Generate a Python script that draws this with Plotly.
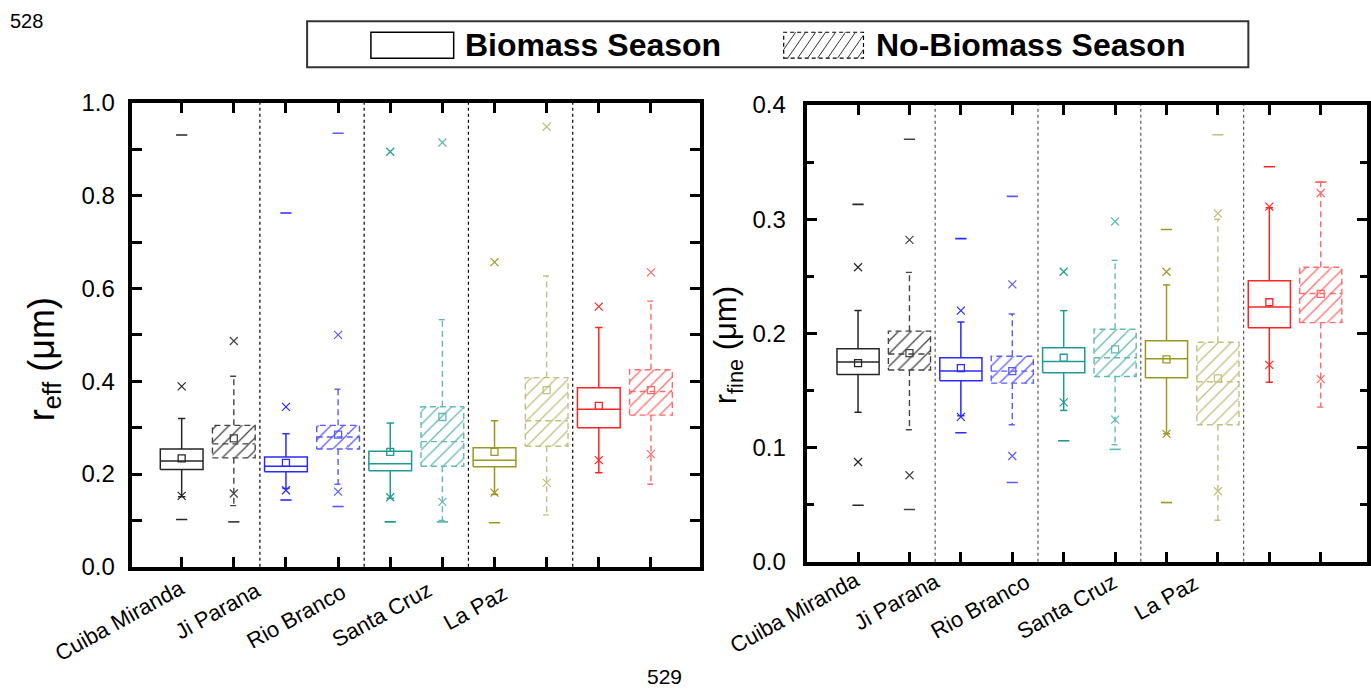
import plotly.graph_objects as go

W, H = 1371, 689

# ---------------- data ----------------
sites = ["Cuiba Miranda", "Ji Parana", "Rio Branco", "Santa Cruz", "La Paz"]
seasons = ["Biomass Season", "No-Biomass Season"]
positions = [1, 2, 3, 4, 5, 6, 7, 8, 9, 10]
dividers = [2.5, 4.5, 6.5, 8.5]

reff_max = [0.931, None, 0.763, 0.935, None, None, None, None, None, None]
reff_p99 = [0.389, 0.487, 0.345, 0.500, 0.895, 0.915, 0.657, 0.949, 0.561, 0.635]
reff_whi = [0.320, 0.411, 0.287, 0.383, 0.310, 0.533, 0.315, 0.627, 0.516, 0.573]
reff_q3 = [0.254, 0.305, 0.237, 0.305, 0.249, 0.345, 0.257, 0.408, 0.386, 0.425]
reff_mean = [0.234, 0.277, 0.224, 0.285, 0.248, 0.323, 0.248, 0.381, 0.347, 0.381]
reff_med = [0.228, 0.265, 0.217, 0.280, 0.222, 0.270, 0.230, 0.315, 0.340, 0.378]
reff_q1 = [0.210, 0.235, 0.205, 0.254, 0.207, 0.217, 0.216, 0.260, 0.300, 0.327]
reff_wlo = [0.151, 0.132, 0.169, 0.178, 0.148, 0.100, 0.156, 0.112, 0.203, 0.178]
reff_p1 = [0.153, 0.158, 0.165, 0.162, 0.150, 0.140, 0.160, 0.181, 0.230, 0.243]
reff_min = [0.102, 0.097, 0.144, 0.130, 0.097, 0.097, 0.095, None, None, None]

rfine_max = [0.313, 0.370, 0.283, 0.320, None, None, 0.291, 0.374, 0.346, 0.3325]
rfine_p99 = [0.258, 0.282, 0.220, 0.243, 0.254, 0.298, 0.254, 0.305, 0.311, 0.323]
rfine_whi = [0.220, 0.2535, 0.210, 0.217, 0.220, 0.264, 0.2425, 0.300, 0.310, 0.3325]
rfine_q3 = [0.1865, 0.202, 0.1787, 0.180, 0.1874, 0.2037, 0.1935, 0.1923, 0.2462, 0.2579]
rfine_mean = [0.174, 0.1827, 0.1696, 0.167, 0.1787, 0.186, 0.1772, 0.1606, 0.2273, 0.2346]
rfine_med = [0.175, 0.182, 0.167, 0.167, 0.1754, 0.1787, 0.1778, 0.1577, 0.2232, 0.235]
rfine_q1 = [0.164, 0.168, 0.1585, 0.1565, 0.1655, 0.1623, 0.1612, 0.120, 0.2049, 0.2095]
rfine_wlo = [0.131, 0.1157, 0.128, 0.120, 0.1326, 0.1026, 0.1122, 0.0364, 0.1573, 0.1355]
rfine_p1 = [0.0874, 0.0758, 0.127, 0.0927, 0.1396, 0.1245, 0.112, 0.0618, 0.1725, 0.160]
rfine_min = [0.0496, 0.0458, 0.113, 0.0694, 0.106, 0.0985, 0.0519, None, None, None]

site_colors = ["#262626", "#2b2bff", "#1f9a94", "#999922", "#ff2424"]
site_colors_light = ["#444444", "#5a5aff", "#62b9b4", "#c0c080", "#ff6a6a"]
BOX_HW = 0.41
CAP_HW = 0.07
FONT = "Liberation Sans, Arial, sans-serif"

# the captured page is squeezed vertically; pre-compensate target pixel rows
SQ_A, SQ_B = 0.9634, 12.7


def px_x(x):
    return x / W


def px_y(y):
    return 1 - ((y - SQ_B) / SQ_A) / H


fig = go.Figure()


def add_panel(xa, ya, st):
    q1, med, q3, mean, wlo, whi, p1, p99, vmin, vmax = st
    cols = [site_colors[k // 2] if k % 2 == 0 else site_colors_light[k // 2] for k in range(10)]
    fig.add_trace(go.Bar(
        x=positions, base=q1, y=[b - a for a, b in zip(q1, q3)], width=2 * BOX_HW,
        marker=dict(
            color=["rgba(0,0,0,0)" if k % 2 == 0 else cols[k] for k in range(10)],
            line=dict(width=0),
            pattern=dict(shape=["" if k % 2 == 0 else "/" for k in range(10)],
                         fgcolor=cols, bgcolor="rgba(0,0,0,0)",
                         size=9, solidity=0.14, fillmode="replace"),
        ),
        xaxis=xa, yaxis=ya, showlegend=False, hoverinfo="skip"))
    for k, p in enumerate(positions):
        x0, x1 = p - BOX_HW, p + BOX_HW
        xs = [x0, x1, x1, x0, x0, None, x0, x1, None,
              p, p, None, p - CAP_HW, p + CAP_HW, None,
              p, p, None, p - CAP_HW, p + CAP_HW]
        ys = [q1[k], q1[k], q3[k], q3[k], q1[k], None, med[k], med[k], None,
              q3[k], whi[k], None, whi[k], whi[k], None,
              q1[k], wlo[k], None, wlo[k], wlo[k]]
        fig.add_trace(go.Scatter(
            x=xs, y=ys, mode="lines", xaxis=xa, yaxis=ya, showlegend=False,
            hoverinfo="skip",
            line=dict(color=cols[k], width=1.5 if k % 2 == 0 else 1.4,
                      dash="solid" if k % 2 == 0 else "6px,4px")))
    fig.add_trace(go.Scatter(
        x=positions, y=mean, mode="markers", xaxis=xa, yaxis=ya, showlegend=False,
        marker=dict(symbol="square-open", size=7, color=cols, line=dict(width=1.3))))
    for arr in (p1, p99):
        fig.add_trace(go.Scatter(
            x=positions, y=arr, mode="markers", xaxis=xa, yaxis=ya, showlegend=False,
            marker=dict(symbol="x-thin-open", size=8, color=cols, line=dict(width=1.2))))
    for arr in (vmin, vmax):
        fig.add_trace(go.Scatter(
            x=positions, y=arr, mode="markers", xaxis=xa, yaxis=ya, showlegend=False,
            marker=dict(symbol="line-ew-open", size=8, color=cols, line=dict(width=1.6))))


add_panel("x", "y", (reff_q1, reff_med, reff_q3, reff_mean, reff_wlo, reff_whi,
                     reff_p1, reff_p99, reff_min, reff_max))
add_panel("x2", "y2", (rfine_q1, rfine_med, rfine_q3, rfine_mean, rfine_wlo, rfine_whi,
                       rfine_p1, rfine_p99, rfine_min, rfine_max))

xcommon = dict(tickvals=positions, ticks="inside", ticklen=10, tickwidth=3,
               tickcolor="black", showticklabels=False, showline=True, linewidth=4,
               linecolor="black", mirror="ticks", showgrid=False, zeroline=False)
ycommon = dict(ticks="inside", ticklen=10, tickwidth=3, tickcolor="black",
               showline=True, linewidth=4, linecolor="black", mirror="ticks",
               showgrid=False, zeroline=False, tickformat=".1f",
               tickfont=dict(family=FONT, size=24, color="black"))

fig.update_layout(
    width=W, height=H, margin=dict(l=0, r=0, t=0, b=0),
    paper_bgcolor="white", plot_bgcolor="white", barmode="overlay",
    showlegend=False,
    xaxis=dict(domain=[px_x(132), px_x(702)], range=[0.04, 10.94], anchor="y", **xcommon),
    yaxis=dict(domain=[px_y(567), px_y(102)], range=[0, 1.0], anchor="x",
               tick0=0, dtick=0.2, ticklabelstandoff=8,
               minor=dict(dtick=0.1, ticks="inside", ticklen=10, tickwidth=3, tickcolor="black"),
               **ycommon),
    xaxis2=dict(domain=[px_x(809), 1.0], range=[0, 10.9], anchor="y2", **xcommon),
    yaxis2=dict(domain=[px_y(562), px_y(104)], range=[0, 0.4], anchor="x2",
                tick0=0, dtick=0.1, ticklabelstandoff=12,
                minor=dict(dtick=0.05, ticks="inside", ticklen=7, tickwidth=3, tickcolor="black"),
                **ycommon),
)

shapes = []
for d in dividers:
    shapes.append(dict(type="line", xref="x", yref="y domain", x0=d, x1=d, y0=0, y1=1,
                       line=dict(color="black", width=1.2, dash="dot")))
    shapes.append(dict(type="line", xref="x2", yref="y2 domain", x0=d, x1=d, y0=0, y1=1,
                       line=dict(color="#555555", width=1.2, dash="dot")))

shapes.append(dict(type="rect", xref="paper", yref="paper",
                   x0=px_x(308), x1=px_x(1252), y0=px_y(66), y1=px_y(20),
                   line=dict(color="#333333", width=2)))
shapes.append(dict(type="rect", xref="paper", yref="paper",
                   x0=px_x(372), x1=px_x(455), y0=px_y(57), y1=px_y(31),
                   line=dict(color="black", width=1.5)))
shapes.append(dict(type="rect", xref="paper", yref="paper",
                   x0=px_x(786), x1=px_x(866), y0=px_y(57), y1=px_y(31),
                   line=dict(color="black", width=1.2, dash="4px,3px")))
for i in range(9):
    xa = 786 + i * 10 - 6
    x0, y0, x1, y1 = xa, 57, xa + 18, 31
    if x0 < 786:
        y0 = 57 - (786 - x0) * 26 / 18
        x0 = 786
    if x1 > 866:
        y1 = 31 + (x1 - 866) * 26 / 18
        x1 = 866
    shapes.append(dict(type="line", xref="paper", yref="paper",
                       x0=px_x(x0), x1=px_x(x1), y0=px_y(y0), y1=px_y(y1),
                       line=dict(color="#333333", width=1)))

annotations = []
annotations.append(dict(text="<b>Biomass Season</b>", xref="paper", yref="paper",
                        x=px_x(464), y=px_y(44), xanchor="left", yanchor="middle",
                        showarrow=False, font=dict(family=FONT, size=32, color="black")))
annotations.append(dict(text="<b>No-Biomass Season</b>", xref="paper", yref="paper",
                        x=px_x(877), y=px_y(44), xanchor="left", yanchor="middle",
                        showarrow=False, font=dict(family=FONT, size=32, color="black")))

left_centers = [(120, 621), (219, 611), (297, 617), (383, 615), (477, 608)]
right_centers = [(797, 613), (900, 602), (983, 607), (1070, 607), (1170, 598)]
for centers in (left_centers, right_centers):
    for name, (cx, cy) in zip(sites, centers):
        annotations.append(dict(text=name, xref="paper", yref="paper",
                                x=px_x(cx), y=px_y(cy), xanchor="center", yanchor="middle",
                                textangle=-29, showarrow=False,
                                font=dict(family=FONT, size=22, color="black")))

annotations.append(dict(text="r<sub>eff</sub> (μm)", xref="paper", yref="paper",
                        x=px_x(44), y=px_y(359), xanchor="center", yanchor="middle",
                        textangle=-90, showarrow=False,
                        font=dict(family=FONT, size=36, color="black")))
annotations.append(dict(text="r<sub>fine</sub> (μm)", xref="paper", yref="paper",
                        x=px_x(731), y=px_y(345), xanchor="center", yanchor="middle",
                        textangle=-90, showarrow=False,
                        font=dict(family=FONT, size=31, color="black")))

annotations.append(dict(text="528", xref="paper", yref="paper",
                        x=px_x(8), y=px_y(20), xanchor="left", yanchor="middle",
                        showarrow=False, font=dict(family=FONT, size=20, color="black")))
annotations.append(dict(text="529", xref="paper", yref="paper",
                        x=px_x(666), y=px_y(677), xanchor="center", yanchor="middle",
                        showarrow=False, font=dict(family=FONT, size=21, color="black")))

fig.update_layout(shapes=shapes, annotations=annotations)
fig.write_html("out.html")
